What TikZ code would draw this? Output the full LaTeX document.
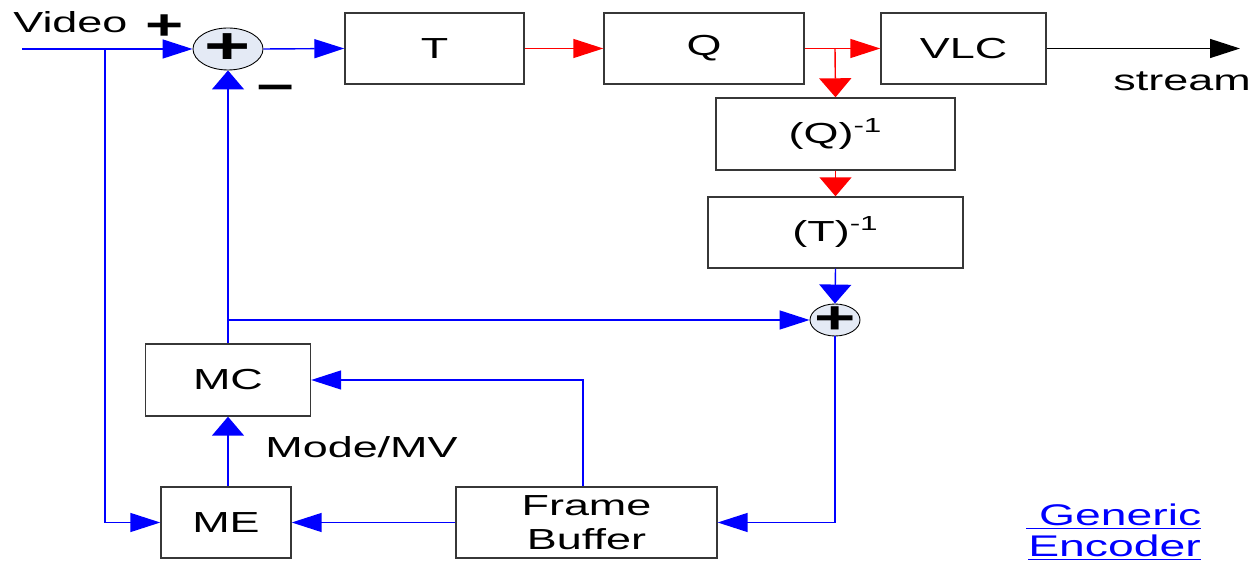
\documentclass[tikz,border=0pt]{standalone}
\usepackage{fontspec}
\setmainfont{Liberation Sans}[FakeStretch=1.55]
\usetikzlibrary{arrows.meta}
\usetikzlibrary{shapes.geometric, positioning}
\definecolor{myblue}{RGB}{0, 0, 255}
\definecolor{myred}{RGB}{255, 0, 0}
\definecolor{sumfill}{RGB}{228, 234, 245}
\definecolor{boxgray}{RGB}{55, 55, 55}

\tikzset{
  blk/.style={draw=boxgray, line width=0.8pt, minimum height=1.42cm, inner sep=0pt,
    align=center, font=\fontsize{16.5}{19}\selectfont},
  sumnode/.style={ellipse, draw=black, fill=sumfill, line width=0.5pt, inner sep=0pt},
  harr/.style={-{Triangle[length=0.6cm, width=0.38cm]}},
  varr/.style={-{Triangle[length=0.38cm, width=0.64cm]}},
  blue line/.style={myblue, line width=0.8pt},
  red line/.style={myred, line width=0.8pt},
  txt/.style={anchor=base west, inner sep=0pt, font=\fontsize{16.5}{19}\selectfont},
}

\begin{document}
\begin{tikzpicture}[x=0.02cm, y=-0.02cm]

 \useasboundingbox (0,0) rectangle (1251,563);

 % forward path
 \node[sumnode, minimum width=1.4cm, minimum height=0.84cm,
   label={[font=\fontsize{29}{29}\selectfont\bfseries]center:+}] (sumA) at (228,49) {};
 \node[blk, minimum width=3.58cm] (T) at (434.5,48.5) {T};
 \node[blk, minimum width=4cm] (Q) at (704,48.5) {Q};
 \node[blk, minimum width=3.3cm] (VLC) at (963.5,48.5) {VLC};

 % inverse path
 \node[blk, minimum width=4.78cm, minimum height=1.44cm] (Qinv) at (835.5,134) {(Q)\textsuperscript{-1}};
 \node[blk, minimum width=5.1cm] (Tinv) at (835.5,232.5) {(T)\textsuperscript{-1}};
 \node[sumnode, minimum width=1cm, minimum height=0.64cm,
   label={[font=\fontsize{26}{26}\selectfont\bfseries]center:+}] (sumB) at (835,320) {};

 % prediction loop
 \node[blk, minimum width=3.3cm, minimum height=1.44cm] (MC) at (228,380) {MC};
 \node[blk, minimum width=2.6cm] (ME) at (226,522.5) {ME};
 \node[blk, minimum width=5.22cm] (FB) at (586.5,522.5) {Frame\\Buffer};

 \coordinate (in) at (22,49);
 \coordinate (split) at (105,49);
 \coordinate (qtap) at (835,48.5);
 \coordinate (fbtap) at (228,320);
 \coordinate (out) at (1240,48.5);

 % labels
 \node[txt] (video) at (13,33) {Video};
 \node[inner sep=0pt, font=\fontsize{24}{24}\selectfont\bfseries] (plus) at (165,27) {+};
 \node[inner sep=0pt, font=\fontsize{24}{24}\selectfont\bfseries] (minus) at (276,93) {−};
 \node[txt] (stream) at (1113,91) {stream};
 \node[txt] (mode) at (265,458) {Mode/MV};
 \node[txt, text=myblue, font=\fontsize{17}{20}\selectfont] (generic) at (1026,526) {\underline{\ Generic}};
 \node[txt, text=myblue, font=\fontsize{17}{20}\selectfont] (encoder) at (1028,557) {\underline{Encoder}};

 \draw[blue line] (in) -- (split);
 \draw[blue line, harr] (split) -- (sumA.west);
 \draw[blue line, harr] (split) |- (ME.west);
 \draw[blue line, harr] (sumA.east) -- (T.west);
 \draw[red line, harr] (T.east) -- (Q.west);
 \draw[red line, harr] (Q.east) -- (VLC.west);
 \draw[red line, varr] (qtap) -- (Qinv.north);
 \draw[red line, varr] (Qinv.south) -- (Tinv.north);
 \draw[line width=0.8pt, harr] (VLC.east) -- (out);
 \draw[blue line, varr] (Tinv.south) -- (sumB.north);
 \draw[blue line, harr] (sumB.south) |- (FB.east);
 \draw[blue line, harr] (FB.west) -- (ME.east);
 \draw[blue line, harr] ([xshift=-0.07cm]FB.north) |- (MC.east);
 \draw[blue line, varr] (ME.north -| MC.south) -- (MC.south);
 \draw[blue line, varr] (MC.north) -- (sumA.south);
 \draw[blue line, harr] (fbtap) -- (sumB.west);

\end{tikzpicture}
\end{document}
